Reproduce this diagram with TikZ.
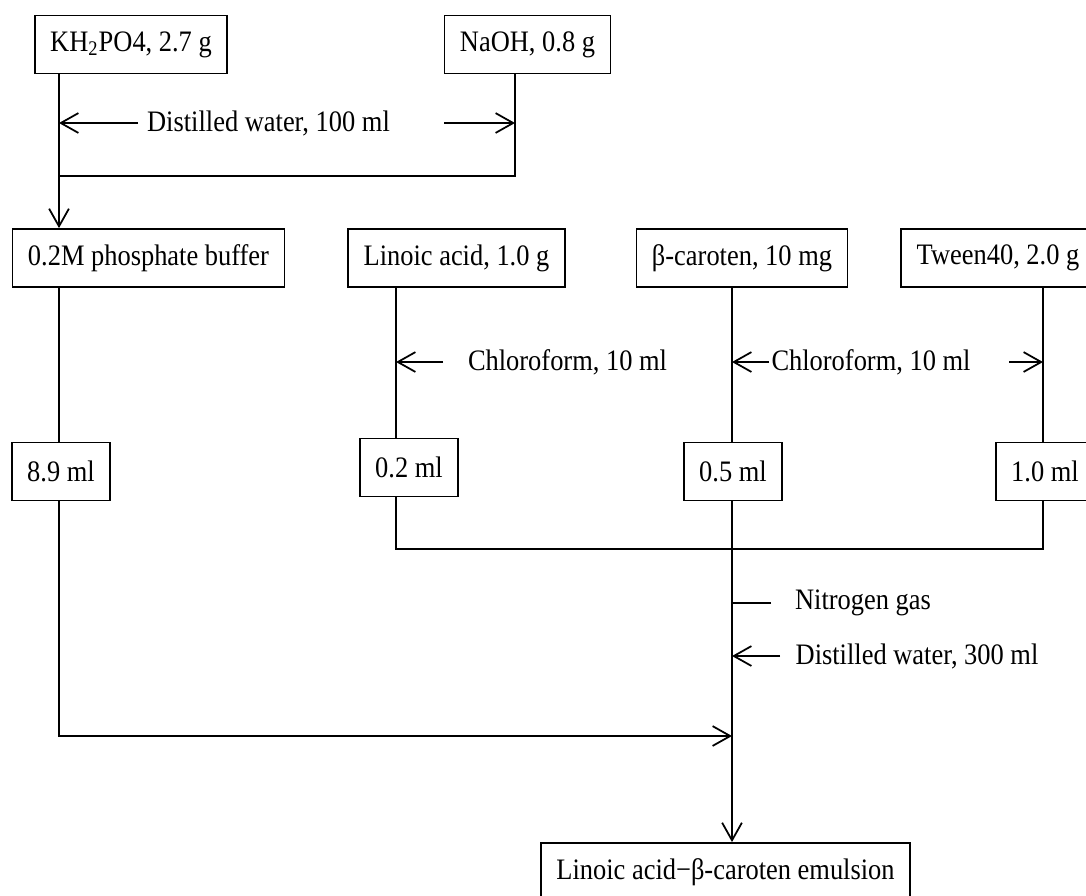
\documentclass[tikz,border=0pt]{standalone}
\usepackage{fontspec}
\setmainfont{Liberation Serif}[FakeStretch=0.89]
\usetikzlibrary{arrows.meta}
\tikzset{
    base/.style={font=\fontsize{13.5}{15}\selectfont},
        proc/.style={base, draw, rectangle, line width=0.8pt,
                     minimum height=26.4pt, inner xsep=7pt, align=center},
        note/.style={base, inner sep=1pt},
        myline/.style={line width=0.8pt},
        myarrow/.style={-{Straight Barb[length=8pt, width=9pt]}, line width=0.8pt},
 }

\begin{document}
\begin{tikzpicture}[x=0.4545pt, y=-0.4545pt]
    \useasboundingbox (0,0) rectangle (1086,895);
    \clip (0,0) rectangle (1086,895);

    % columns of the flow lines
    \coordinate (cA) at (59,0);
    \coordinate (cB) at (396,0);
    \coordinate (cC) at (732,0);
    \coordinate (cD) at (1043,0);
    \coordinate (cN) at (515,0);

    \node[proc] (kh) at (131,44.5) {KH\textsubscript{2}PO4, 2.7 g};
    \node[proc] (na) at (527.5,44.5) {NaOH, 0.8 g};

    \node[proc] (buf) at (148.5,258) {0.2M phosphate buffer};
    \node[proc] (lin) at (456.5,258) {Linoic acid, 1.0 g};
    \node[proc] (car) at (742,258) {β-caroten, 10 mg};
    \node[proc] (tw) at (998,258) {Tween40, 2.0 g};

    \node[proc] (v1) at (61,471.5) {8.9 ml};
    \node[proc] (v2) at (409,467.5) {0.2 ml};
    \node[proc] (v3) at (733,471.5) {0.5 ml};
    \node[proc] (v4) at (1045,471.5) {1.0 ml};

    \node[proc] (em) at (725.5,872) {Linoic acid−β-caroten emulsion};

    % labels
    \node[note] (wa1) at (268.5,123) {Distilled water, 100 ml};
    \node[note] (chl1) at (567.5,362) {Chloroform, 10 ml};
    \node[note] (chl2) at (871,362) {Chloroform, 10 ml};
    \node[note] (nit) at (863,603) {Nitrogen gas};
    \node[note] (wa2) at (917,656) {Distilled water, 300 ml};

    % buffer
    \coordinate (jA) at (59,176);
    \coordinate (jN) at (515,176);
    \draw[myline] (kh.south -| cA) -- (jA) -- (jN) -- (na.south -| cN);
    \draw[myarrow] (jA) -- (buf.north -| cA);
    \coordinate (wl) at (138,123);
    \coordinate (wr) at (444,123);
    \draw[myarrow] (wl) -- (wl -| cA);
    \draw[myarrow] (wr) -- (wr -| cN);

    % stock solutions
    \draw[myline] (buf.south -| cA) -- (v1.north -| cA);
    \draw[myline] (lin.south -| cB) -- (v2.north -| cB);
    \draw[myline] (car.south -| cC) -- (v3.north -| cC);
    \draw[myline] (tw.south -| cD) -- (v4.north -| cD);
    \coordinate (c1) at (443,362);
    \coordinate (c2) at (769,362);
    \coordinate (c3) at (1009,362);
    \draw[myarrow] (c1) -- (c1 -| cB);
    \draw[myarrow] (c2) -- (c2 -| cC);
    \draw[myarrow] (c3) -- (c3 -| cD);

    % mixing
    \coordinate (jB) at (396,549);
    \coordinate (jD) at (1043,549);
    \draw[myline] (v2.south -| cB) -- (jB) -- (jD) -- (v4.south -| cD);
    \draw[myarrow] (v3.south -| cC) -- (em.north -| cC);
    \coordinate (n1) at (771,603);
    \draw[myline] (n1) -- (n1 -| cC);
    \coordinate (d1) at (780,656);
    \draw[myarrow] (d1) -- (d1 -| cC);
    \coordinate (pA) at (59,736);
    \draw[myarrow] (v1.south -| cA) -- (pA) -- (pA -| cC);
\end{tikzpicture}
\end{document}
